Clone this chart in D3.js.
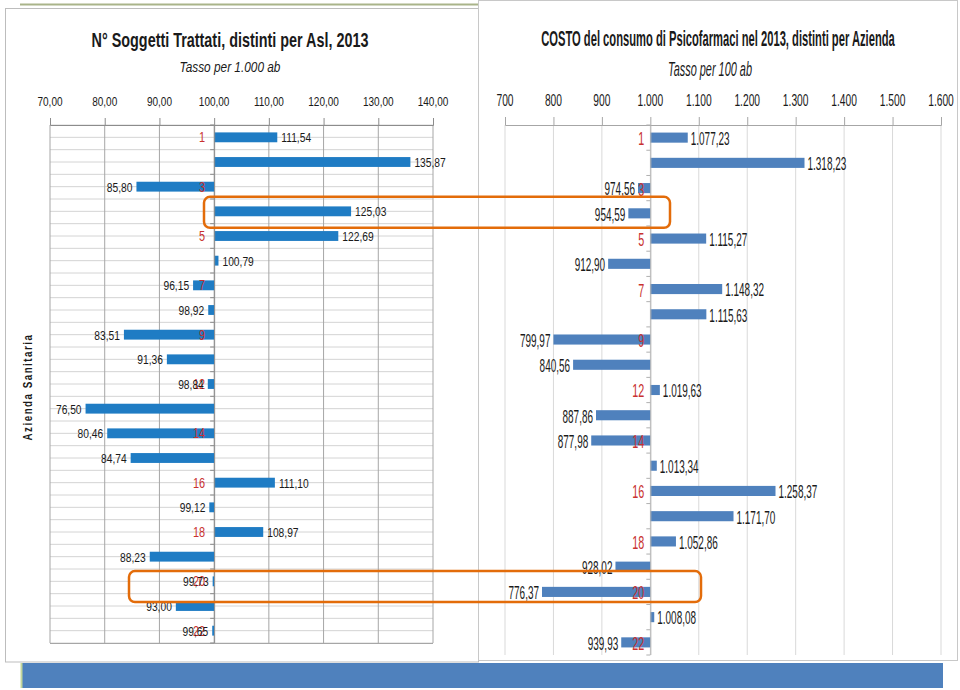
<!DOCTYPE html>
<html>
<head>
<meta charset="utf-8">
<script src="https://cdn.jsdelivr.net/npm/d3@7"></script>
<style>
  html, body { margin: 0; padding: 0; background: #ffffff; }
  svg { display: block; }
  text { font-family: "Liberation Sans", Arial, sans-serif; }
</style>
</head>
<body>
<svg id="chart" width="960" height="690"></svg>
<script>
// ---------------- DATA ----------------
const categories = ["1","2","3","4","5","6","7","8","9","10","12","13","14","15","16","17","18","19","20","21","22"];
const soggettiValues = [111.54,135.87,85.80,125.03,122.69,100.79,96.15,98.92,83.51,91.36,98.84,76.50,80.46,84.74,111.10,99.12,108.97,88.23,99.73,93.00,99.65];
const costoValues = [1077.23,1318.23,974.56,954.59,1115.27,912.90,1148.32,1115.63,799.97,840.56,1019.63,887.86,877.98,1013.34,1258.37,1171.70,1052.86,928.02,776.37,1008.08,939.93];
const soggettiTicks = [70,80,90,100,110,120,130,140];
const costoTicks = [700,800,900,1000,1100,1200,1300,1400,1500,1600];
const soggettiBase = 100;
const costoBase = 1000;
const highlighted = ["4","20"];

const leftTitle = "N° Soggetti Trattati, distinti per Asl, 2013";
const leftSubtitle = "Tasso per 1.000 ab";
const leftAxisTitle = "Azienda Sanitaria";
const rightTitle = "COSTO del consumo di Psicofarmaci nel 2013, distinti per Azienda";
const rightSubtitle = "Tasso per 100 ab";

// ---------------- HELPERS ----------------
const it = d3.formatLocale({decimal: ",", thousands: ".", grouping: [3], currency: ["€", ""]});
const fmt2 = it.format(",.2f");
const fmt0 = it.format(",.0f");

const svg = d3.select("#chart");

function label(g, x, y, str, o) {
  const t = g.append("text")
    .attr("text-anchor", o.anchor || "start")
    .attr("dy", o.dy || 0)
    .style("font-size", (o.size || 12) + "px")
    .style("font-weight", o.weight || "normal")
    .style("font-style", o.style || "normal")
    .style("letter-spacing", o.ls || "normal")
    .attr("fill", o.fill || "#1a1a1a")
    .text(str);
  let s = o.sx || 1;
  if (o.fit) { s = o.fit / t.node().getComputedTextLength(); }
  const rot = o.rotate ? ` rotate(${o.rotate})` : "";
  t.attr("transform", `translate(${x},${y})${rot} scale(${s},1)`);
  return t;
}

// ---------------- BACKGROUND SLIDE ELEMENTS ----------------
svg.append("line").attr("x1", 20).attr("x2", 478).attr("y1", 4.5).attr("y2", 4.5)
  .attr("stroke", "#a9b489").attr("stroke-width", 2);
svg.append("rect").attr("x", 22).attr("y", 663).attr("width", 921).attr("height", 25).attr("fill", "#4f81bd");
svg.append("line").attr("x1", 21.5).attr("x2", 21.5).attr("y1", 663).attr("y2", 688)
  .attr("stroke", "#c3d69b").attr("stroke-width", 2);

// ---------------- LEFT CHART ----------------
const L = svg.append("g");
L.append("rect").attr("x", 5.5).attr("y", 8.5).attr("width", 473).attr("height", 653.5)
  .attr("fill", "#ffffff").attr("stroke", "#bdbdbd");

const xL = d3.scaleLinear().domain([70, 140]).range([50, 433]);
const yL = d3.scaleBand().domain(categories).range([125, 643]).paddingInner(0.6).paddingOuter(0.3);
const stepL = yL.step();

// horizontal light gridlines (half band)
const hLines = d3.range(0, categories.length * 2 + 1).map(i => 125 + i * stepL / 2);
L.append("g").selectAll("line").data(hLines).join("line")
  .attr("x1", xL(70)).attr("x2", xL(140)).attr("y1", d => d).attr("y2", d => d)
  .attr("stroke", "#d4d4d4").attr("stroke-width", 1);

// vertical gridlines
L.append("g").selectAll("line").data(soggettiTicks).join("line")
  .attr("x1", d => xL(d)).attr("x2", d => xL(d)).attr("y1", 125).attr("y2", 643)
  .attr("stroke", "#a6a6a6").attr("stroke-width", 1);
L.append("line").attr("x1", xL(70)).attr("x2", xL(140)).attr("y1", 643.5).attr("y2", 643.5).attr("stroke", "#a6a6a6");

// top axis
const axL = d3.axisTop(xL).tickValues(soggettiTicks).tickSize(7).tickFormat("");
const gAxL = L.append("g").attr("transform", "translate(0,125)").call(axL);
gAxL.selectAll("path, line").attr("stroke", "#8c8c8c");
soggettiTicks.forEach(t => label(L, xL(t), 106, fmt2(t), {anchor: "middle", size: 13, sx: 0.77}));

// bars
L.append("g").selectAll("rect").data(categories).join("rect")
  .attr("x", (d, i) => xL(Math.min(soggettiValues[i], soggettiBase)))
  .attr("width", (d, i) => Math.abs(xL(soggettiValues[i]) - xL(soggettiBase)))
  .attr("y", d => yL(d))
  .attr("height", yL.bandwidth())
  .attr("fill", "#1f7cc4");

// category axis at base
L.append("line").attr("x1", xL(soggettiBase) + 0.5).attr("x2", xL(soggettiBase) + 0.5)
  .attr("y1", 125).attr("y2", 643).attr("stroke", "#8c8c8c");
L.append("g").selectAll("line").data(d3.range(0, categories.length + 1)).join("line")
  .attr("x1", xL(soggettiBase) - 4).attr("x2", xL(soggettiBase))
  .attr("y1", i => 125 + i * stepL).attr("y2", i => 125 + i * stepL)
  .attr("stroke", "#8c8c8c");

// category labels (every other)
categories.forEach((c, i) => {
  if (i % 2 === 0) label(L, xL(soggettiBase) - 9, yL(c) + yL.bandwidth() / 2, c,
    {anchor: "end", size: 14, sx: 0.78, dy: "0.36em", fill: "#c8312f"});
});
// data labels
categories.forEach((c, i) => {
  const v = soggettiValues[i];
  const pos = v >= soggettiBase;
  label(L, xL(v) + (pos ? 4 : -4), yL(c) + yL.bandwidth() / 2, fmt2(v),
    {anchor: pos ? "start" : "end", size: 13.5, sx: 0.76, dy: "0.36em", fill: "#1a1a1a"});
});

// titles
label(L, 230, 47, leftTitle, {anchor: "middle", size: 19.5, weight: "bold", fit: 277});
label(L, 230, 72, leftSubtitle, {anchor: "middle", size: 15, style: "italic", fit: 101});
label(L, 32, 387, leftAxisTitle, {anchor: "middle", size: 13, weight: "bold", rotate: -90, ls: "2px", fit: 107});

// ---------------- RIGHT CHART ----------------
const R = svg.append("g");
R.append("rect").attr("x", 478.5).attr("y", 0.5).attr("width", 479).attr("height", 660)
  .attr("fill", "#ffffff").attr("stroke", "#c8c8c8");

const xR = d3.scaleLinear().domain([700, 1600]).range([505, 941]);
const yR = d3.scaleBand().domain(categories).range([125, 655]).paddingInner(0.6).paddingOuter(0.3);
const stepR = yR.step();

R.append("g").selectAll("line").data(costoTicks).join("line")
  .attr("x1", d => xR(d)).attr("x2", d => xR(d)).attr("y1", 125).attr("y2", 655)
  .attr("stroke", "#d9d9d9").attr("stroke-width", 1);

const axR = d3.axisTop(xR).tickValues(costoTicks).tickSize(8).tickFormat("");
const gAxR = R.append("g").attr("transform", "translate(0,125)").call(axR);
gAxR.selectAll("path, line").attr("stroke", "#a6a6a6");
costoTicks.forEach(t => label(R, xR(t), 106, fmt0(t), {anchor: "middle", size: 16, sx: 0.64}));

R.append("g").selectAll("rect").data(categories).join("rect")
  .attr("x", (d, i) => xR(Math.min(costoValues[i], costoBase)))
  .attr("width", (d, i) => Math.abs(xR(costoValues[i]) - xR(costoBase)))
  .attr("y", d => yR(d))
  .attr("height", yR.bandwidth())
  .attr("fill", "#4f81bd");

R.append("line").attr("x1", xR(costoBase) + 0.5).attr("x2", xR(costoBase) + 0.5)
  .attr("y1", 125).attr("y2", 655).attr("stroke", "#b0b0b0");
R.append("g").selectAll("line").data(d3.range(0, categories.length + 1)).join("line")
  .attr("x1", xR(costoBase) - 4).attr("x2", xR(costoBase))
  .attr("y1", i => 125 + i * stepR).attr("y2", i => 125 + i * stepR)
  .attr("stroke", "#b0b0b0");

categories.forEach((c, i) => {
  if (i % 2 === 0) label(R, xR(costoBase) - 6, yR(c) + yR.bandwidth() / 2 + 1, c,
    {anchor: "end", size: 18, sx: 0.6, dy: "0.36em", fill: "#c8312f"});
});
categories.forEach((c, i) => {
  const v = costoValues[i];
  const pos = v >= costoBase;
  label(R, xR(v) + (pos ? 3 : -3), yR(c) + yR.bandwidth() / 2 + 1, fmt2(v),
    {anchor: pos ? "start" : "end", size: 17.5, sx: 0.57, dy: "0.36em", fill: "#1a1a1a"});
});

label(R, 718, 46, rightTitle, {anchor: "middle", size: 22, weight: "bold", fit: 354});
label(R, 710, 76, rightSubtitle, {anchor: "middle", size: 20, style: "italic", fit: 84});

// ---------------- HIGHLIGHT FRAMES ----------------
const frames = [
  {cat: highlighted[0], x1: 204, x2: 670},
  {cat: highlighted[1], x1: 129, x2: 701}
];
frames.forEach(f => {
  const cy = ((yL(f.cat) + yL.bandwidth() / 2) + (yR(f.cat) + yR.bandwidth() / 2)) / 2;
  svg.append("rect").attr("x", f.x1).attr("y", cy - 15.5).attr("width", f.x2 - f.x1).attr("height", 31)
    .attr("rx", 6).attr("fill", "none").attr("stroke", "#e36c0a").attr("stroke-width", 2.5);
});
</script>
</body>
</html>
